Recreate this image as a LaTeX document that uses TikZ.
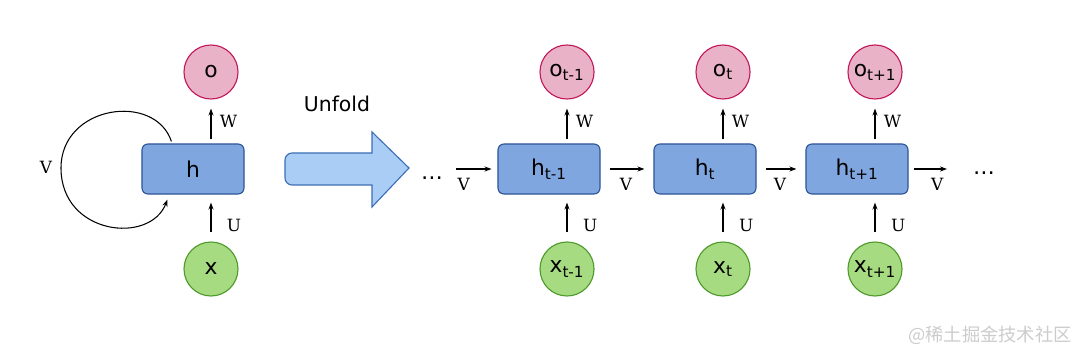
\documentclass[tikz,border=0pt]{standalone}
\usepackage{fontspec}
\usepackage{tikz}
\usetikzlibrary{calc,arrows.meta}
\newfontfamily\nodefont{DejaVu Sans}
\newfontfamily\labfont{DejaVu Serif}
\newfontfamily\cjkfont{Noto Sans CJK SC}
\definecolor{hfill}{HTML}{7FA6DF}
\definecolor{hline}{HTML}{2F5597}
\definecolor{ofill}{HTML}{EAB2C7}
\definecolor{oline}{HTML}{C2185B}
\definecolor{xfill}{HTML}{A7DB82}
\definecolor{xline}{HTML}{4F9A2C}
\definecolor{bigfill}{HTML}{AACDF6}
\definecolor{bigline}{HTML}{3C6FB5}

\begin{document}
\begin{tikzpicture}[x=0.025cm,y=-0.025cm,>={Stealth[length=5pt,width=3.6pt]},
  hbox/.style={draw=hline,fill=hfill,line width=0.8pt,rounded corners=0.15cm,
    minimum width=2.55cm,minimum height=1.25cm,font=\nodefont\fontsize{15.5}{18}\selectfont},
  onode/.style={circle,draw=oline,fill=ofill,line width=0.8pt,minimum size=1.35cm,
    inner sep=0pt,font=\nodefont\fontsize{15.5}{18}\selectfont},
  xnode/.style={onode,draw=xline,fill=xfill},
  link/.style={->,line width=0.75pt},
  lab/.style={font=\labfont\fontsize{12}{14}\selectfont,inner sep=1pt}]
  \useasboundingbox (0,0) rectangle (1080,360);
  % folded network
  \node[hbox]  (h) at (193,169) {h};
  \node[onode] (o) at (211,72)  {o};
  \node[xnode] (x) at (211,269) {x};
  \draw[link,shorten <=2.8pt,shorten >=6.4pt] (h.north -| o) -- (o.south)
    node[lab,midway,right=5pt] {W};
  \draw[link,shorten <=6.4pt,shorten >=5.7pt] (x.north) -- (h.south -| x)
    node[lab,pos=0.35,right=10pt] {U};
  \coordinate (loopa) at ($(h.north west)+(30,-2)$);
  \coordinate (loopb) at ($(h.south west)+(26,5)$);
  \draw[link] (loopa) .. controls (155,92) and (61,105) .. (61,168)
    .. controls (61,235) and (150,245) .. (loopb);
  \node[lab] (vloop) at (46,167) {V};
  % unfold arrow
  \draw[draw=bigline,fill=bigfill,line width=0.8pt]
    (372,153) [rounded corners=5] -- (285,153) -- (285,185) [sharp corners]
    -- (372,185) -- (372,207) -- (409,168) -- (372,132) -- cycle;
  \node[font=\nodefont\fontsize{14.5}{17}\selectfont] (unfold) at (337,104) {Unfold};
  % unfolded network
  \foreach \i/\s/\hx in {1/t-1/549,2/t/705,3/t+1/857} {
    \node[hbox]  (h\i) at (\hx,169) {h\textsubscript{\s}};
    \node[onode] (o\i) at (\hx+18,72)  {o\textsubscript{\s}};
    \node[xnode] (x\i) at (\hx+18,269) {x\textsubscript{\s}};
    \draw[link,shorten <=2.8pt,shorten >=6.4pt] (h\i.north -| o\i) -- (o\i.south)
      node[lab,midway,right=5pt] {W};
    \draw[link,shorten <=6.4pt,shorten >=5.7pt] (x\i.north) -- (h\i.south -| x\i)
      node[lab,pos=0.35,right=10pt] {U};
  }
  \node[font=\nodefont\fontsize{15.5}{18}\selectfont] (dotsl) at (432,178) {\ldots};
  \node[font=\nodefont\fontsize{15.5}{18}\selectfont] (dotsr) at (984,173) {\ldots};
  \draw[link,shorten <=6pt,shorten >=4.2pt] (dotsl.east |- h1.west) -- (h1.west)
    node[lab,pos=0.32,below=5pt] {V};
  \foreach \a/\b in {1/2,2/3}
    \draw[link,shorten <=7pt,shorten >=6.4pt] (h\a.east) -- (h\b.west)
      node[lab,pos=0.48,below=5pt] {V};
  \draw[link,shorten <=4.2pt,shorten >=15pt] (h3.east) -- (dotsr.west |- h3.east)
    node[lab,pos=0.48,below=5pt] {V};
  \node[font=\cjkfont\fontsize{13}{15}\selectfont,text=gray!40] (mark) at (990,335) {@稀土掘金技术社区};
\end{tikzpicture}
\end{document}
